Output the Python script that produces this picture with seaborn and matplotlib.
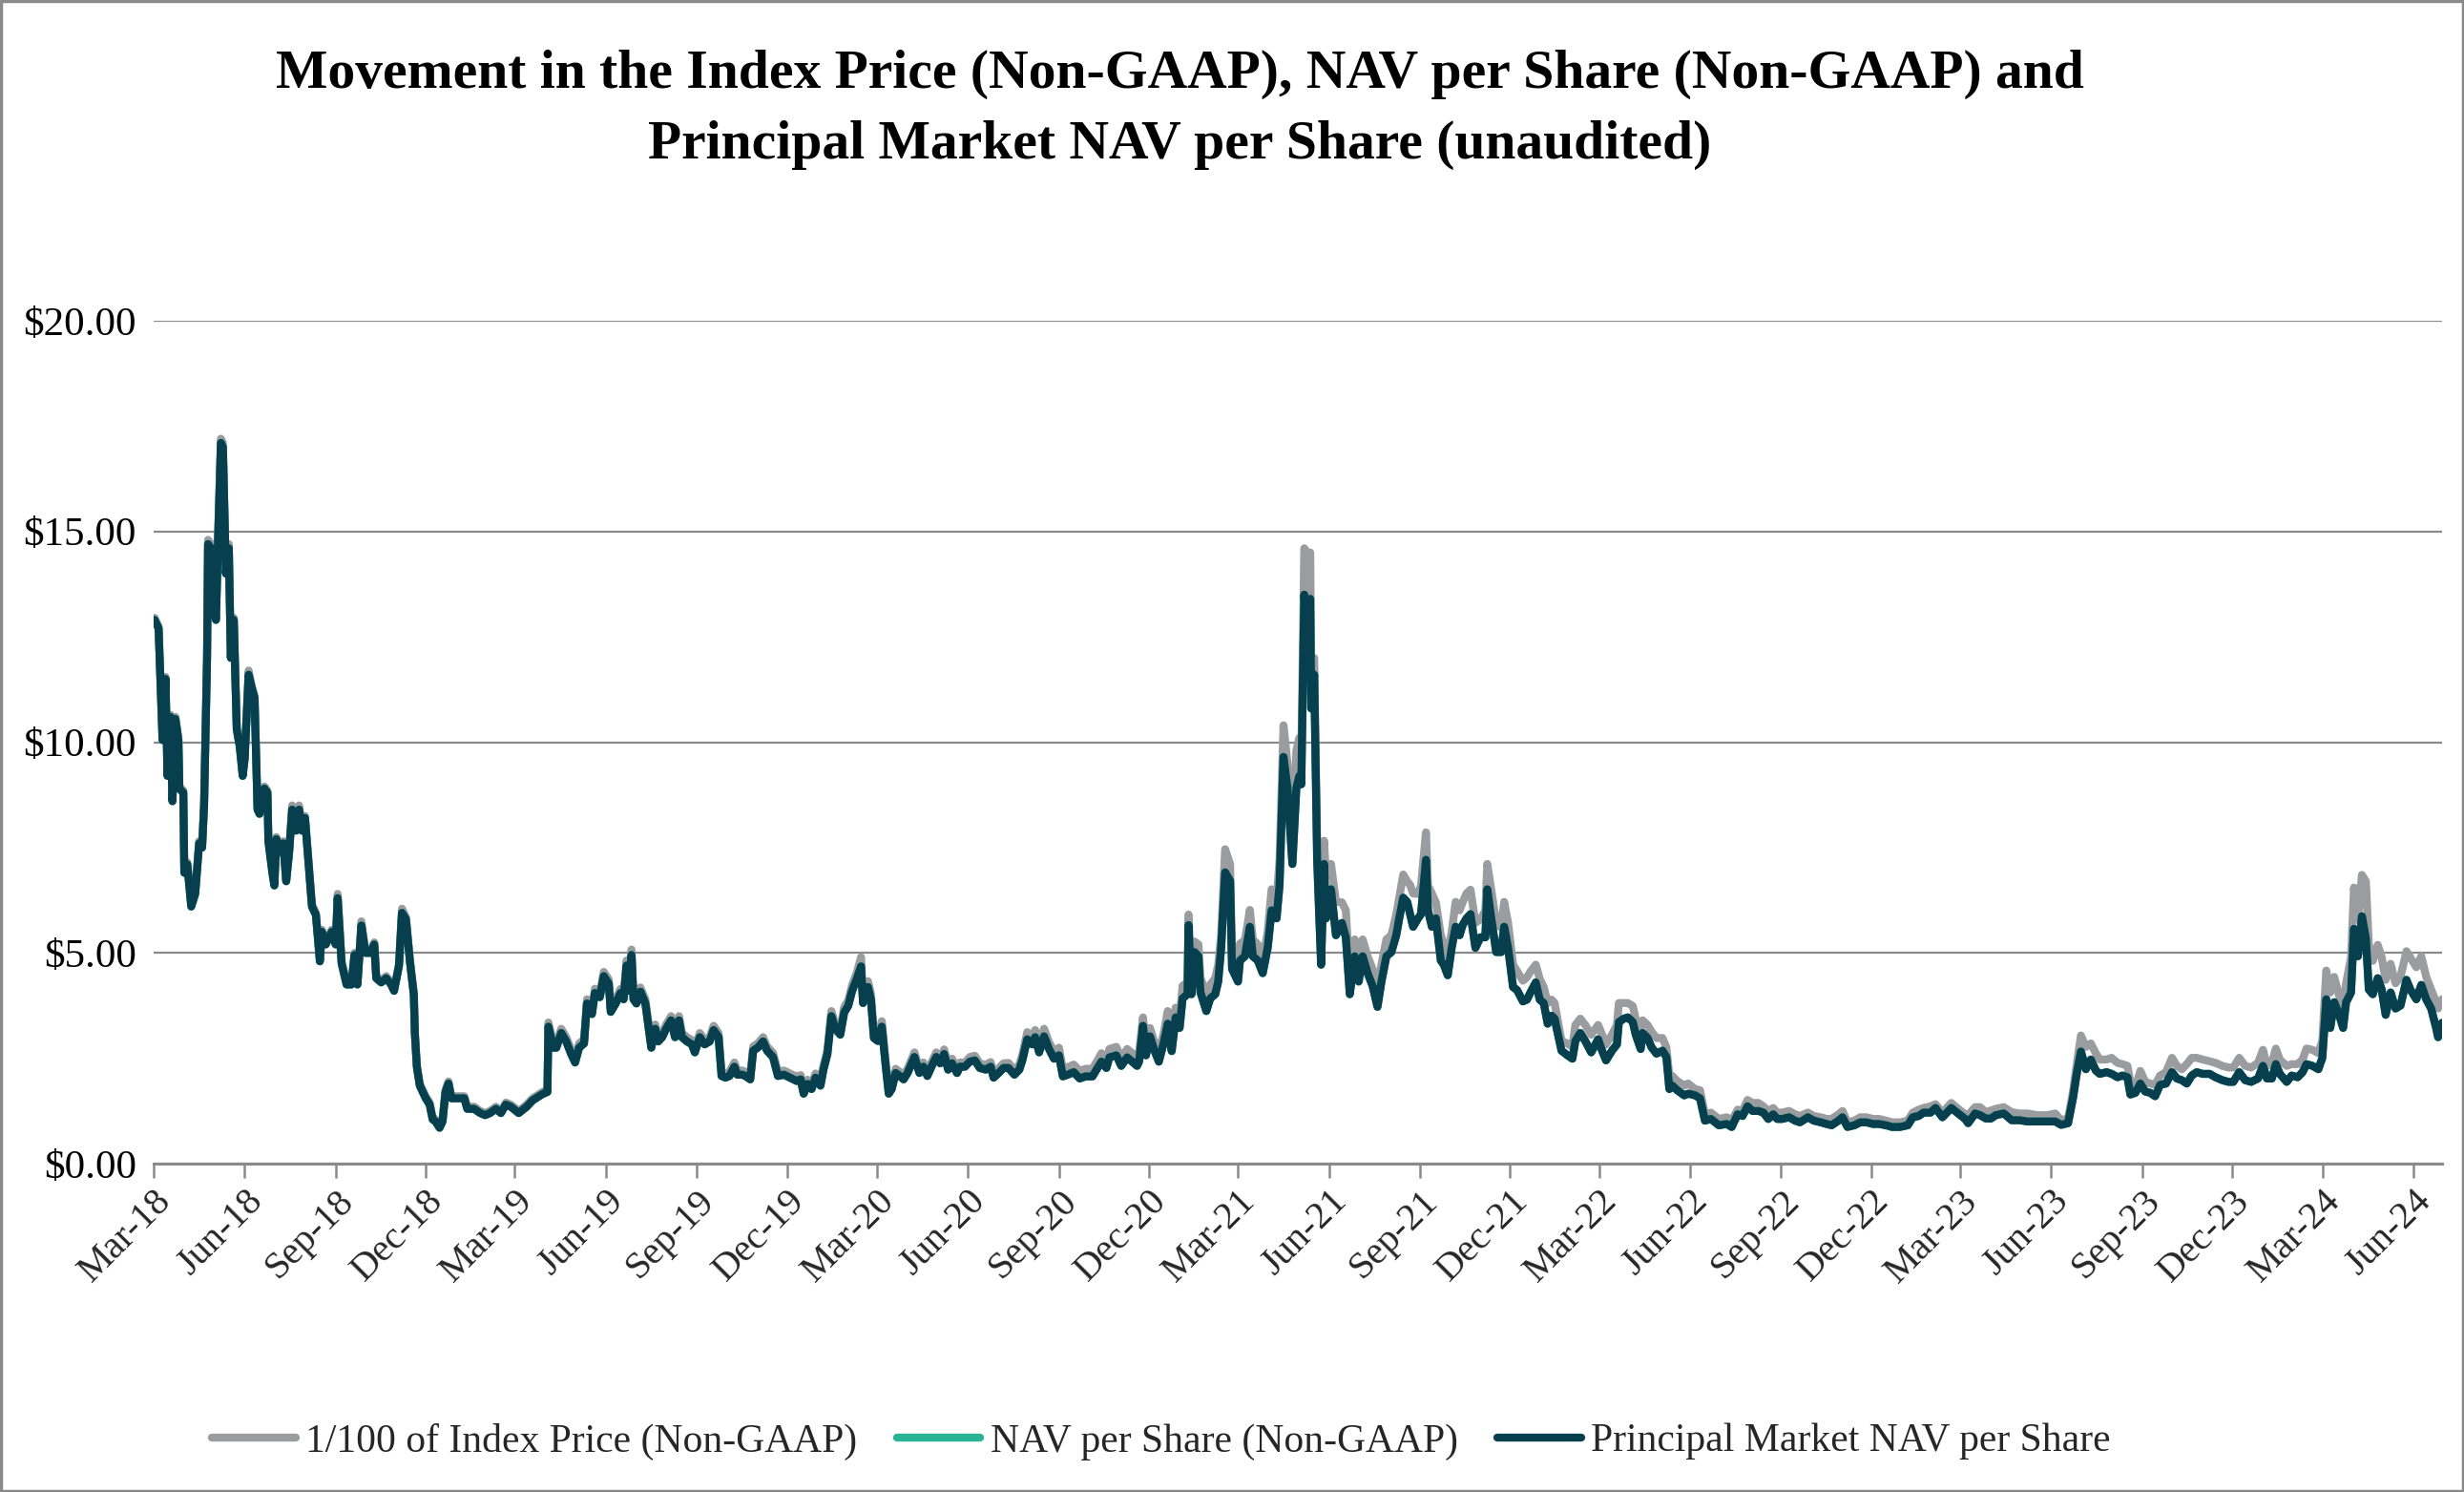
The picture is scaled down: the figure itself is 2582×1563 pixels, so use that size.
import matplotlib
matplotlib.use("Agg")
import matplotlib.pyplot as plt
import matplotlib.dates as mdates
from matplotlib.patches import Rectangle
from matplotlib.lines import Line2D
import pandas as pd
import seaborn as sns

# ---------------- data ----------------
start_date = "2018-03-01"

days_since_start = [
    1, 5, 9, 12, 14, 17, 19, 22, 25, 26,
    30, 31, 34, 38, 42, 46, 49, 51, 54, 55,
    58, 60, 63, 65, 68, 70, 71, 73, 76, 78,
    81, 84, 87, 90, 92, 96, 99, 102, 105, 107,
    112, 115, 116, 120, 122, 124, 128, 131, 134, 137,
    140, 144, 147, 150, 153, 160, 164, 168, 170, 174,
    180, 184, 186, 190, 195, 200, 203, 206, 210, 214,
    219, 223, 225, 230, 235, 240, 243, 248, 251, 255,
    259, 263, 264, 266, 269, 272, 275, 279, 282, 285,
    289, 292, 295, 298, 301, 308, 314, 317, 324, 330,
    335, 340, 346, 351, 356, 361, 369, 377, 383, 393,
    398, 399, 404, 407, 412, 417, 422, 426, 430, 435,
    438, 443, 446, 451, 455,
    460, 462, 467, 472, 475, 478, 481, 483, 485, 488,
    492, 497, 503, 507, 510, 514, 518, 523, 527, 531,
    534, 539, 544, 547, 552, 557, 562, 566, 571, 574,
    578, 582, 587, 590, 595, 598, 603, 606, 611, 616,
    620, 626, 631, 637, 643, 650, 654, 657, 661, 665,
    669, 674, 677, 681, 685, 689, 694, 698, 702, 706,
    711, 715, 717, 722, 725, 728, 732, 736, 740, 743,
    746, 750, 754, 758, 762, 769, 774, 778, 782, 787,
    791, 795, 799, 803, 807, 812, 815, 820, 825, 830,
    835, 841, 846, 849, 854, 859, 864, 870, 875, 878,
    883, 888, 891, 895, 900, 905, 910,
    915, 919, 925, 930, 936, 942, 949, 954, 958, 963,
    966, 973, 978, 984, 989, 994, 996, 1000, 1003, 1007,
    1011, 1016, 1021, 1025, 1029, 1033, 1037, 1040, 1045, 1046,
    1049, 1052, 1056, 1058, 1064, 1068, 1073, 1076, 1079, 1083,
    1088, 1090, 1096, 1098, 1103, 1108, 1111, 1116, 1121, 1126,
    1130, 1135, 1138, 1142, 1146, 1151, 1155, 1158, 1160, 1163,
    1166, 1169, 1170, 1173, 1176, 1180, 1183, 1185, 1190, 1195,
    1201, 1205, 1209, 1214, 1218, 1222, 1227, 1232, 1237, 1241,
    1246, 1251, 1256, 1259, 1263, 1267, 1270, 1273, 1278, 1281,
    1286, 1288, 1292, 1296, 1301, 1304, 1308, 1312, 1316, 1320,
    1323, 1327, 1331, 1336, 1341, 1346, 1348, 1352, 1357, 1362,
    1365, 1369,
    1374, 1378, 1384, 1388, 1392, 1397, 1401, 1405, 1409, 1413,
    1416, 1423, 1429, 1434, 1437, 1442, 1447, 1453, 1460, 1464,
    1468, 1474, 1479, 1481, 1486, 1490, 1495, 1498, 1503, 1505,
    1510, 1514, 1519, 1525, 1529, 1532, 1535, 1540, 1547, 1551,
    1558, 1563, 1568, 1574, 1582, 1590, 1595, 1601, 1606, 1611,
    1616, 1622, 1627, 1632, 1637, 1641, 1646, 1653, 1659, 1664,
    1672, 1678, 1685, 1691, 1696, 1703, 1707, 1712, 1719, 1725,
    1731, 1738, 1744, 1751, 1757, 1765, 1773, 1778, 1784, 1789,
    1796, 1801, 1808, 1817, 1825, 1831,
    1834, 1841, 1846, 1852, 1857, 1862, 1870, 1878, 1886, 1894,
    1904, 1914, 1922, 1928, 1935, 1940, 1944, 1948, 1953, 1958,
    1963, 1967, 1974, 1979, 1985, 1990, 1995, 1998, 2003, 2008,
    2013, 2018, 2023, 2028, 2034, 2040, 2045, 2050, 2055, 2060,
    2065, 2071, 2078, 2084, 2091, 2097, 2102, 2108, 2114, 2120,
    2127, 2132, 2136, 2141, 2145, 2149, 2156, 2161, 2167, 2172,
    2176, 2182, 2188, 2192, 2196, 2200, 2204, 2209, 2213, 2216,
    2221, 2224, 2228, 2232, 2236, 2239, 2243, 2248, 2252, 2256,
    2261, 2266, 2271, 2277, 2281, 2287, 2292, 2297, 2302, 2307,
    2309, 2313,
]

principal_market_nav = [
    12.9, 12.7, 10.05, 11.5, 9.2, 10.6, 8.6, 10.55, 10.05, 8.9,
    8.8, 6.9, 7.1, 6.1, 6.4, 7.6, 7.5, 8.5, 12.0, 14.7,
    14.6, 13.2, 12.9, 14.7, 17.1, 17.0, 16.0, 14.0, 14.6, 12.0,
    12.9, 10.3, 9.9, 9.2, 9.6, 11.6, 11.3, 11.05, 8.4, 8.3,
    8.9, 8.8, 7.65, 6.9, 6.6, 7.7, 7.4, 7.6, 6.7, 7.4,
    8.4, 7.9, 8.4, 7.9, 8.2, 6.1, 5.9, 4.8, 5.5, 5.2,
    5.5, 5.2, 6.3, 4.75, 4.25, 4.25, 4.95, 4.25, 5.65, 5.0,
    5.0, 5.2, 4.4, 4.3, 4.4, 4.25, 4.1, 4.7, 5.95, 5.8,
    4.8, 4.0, 3.1, 2.3, 1.85, 1.7, 1.55, 1.4, 1.05, 1.0,
    0.85, 1.0, 1.7, 1.9, 1.55, 1.55, 1.55, 1.3, 1.3, 1.2,
    1.15, 1.2, 1.3, 1.2, 1.4, 1.35, 1.2, 1.35, 1.5, 1.65,
    1.7, 3.25, 2.75, 2.75, 3.1, 2.9, 2.6, 2.4, 2.75, 2.85,
    3.8, 3.55, 4.05, 3.95, 4.45,
    4.27, 3.6, 3.8, 4.05, 3.9, 4.7, 4.1, 4.95, 3.9, 3.8,
    4.08, 3.8, 2.75, 3.2, 2.9, 3.0, 3.2, 3.4, 3.0, 3.4,
    3.0, 2.9, 2.83, 2.64, 3.0, 2.83, 2.9, 3.17, 3.0, 2.08,
    2.04, 2.08, 2.3, 2.11, 2.11, 2.08, 2.0, 2.68, 2.76, 2.9,
    2.68, 2.53, 2.08, 2.11, 2.04, 1.96, 2.0, 1.66, 1.89, 1.77,
    2.04, 1.85, 2.23, 2.6, 3.5, 3.2, 3.06, 3.59, 3.74, 4.1,
    4.4, 4.68, 3.81, 4.19, 3.89, 2.98, 2.91, 3.25, 2.3, 1.66,
    1.77, 2.15, 2.08, 2.0, 2.15, 2.53, 2.15, 2.3, 2.08, 2.34,
    2.53, 2.38, 2.6, 2.23, 2.38, 2.15, 2.3, 2.3, 2.42, 2.45,
    2.27, 2.23, 2.3, 2.04, 2.15, 2.27, 2.27, 2.11, 2.23, 2.45,
    2.95, 2.83, 3.0, 2.64, 3.02, 2.72, 2.49,
    2.57, 2.07, 2.12, 2.17, 2.02, 2.07, 2.07, 2.27, 2.42, 2.27,
    2.52, 2.57, 2.32, 2.52, 2.42, 2.32, 2.42, 3.27, 2.57, 3.02,
    2.72, 2.42, 2.87, 3.32, 2.67, 3.47, 3.22, 3.92, 4.02, 5.66,
    4.02, 5.02, 4.92, 4.07, 3.62, 3.92, 4.02, 4.32, 5.12, 6.91,
    6.71, 4.62, 4.32, 4.82, 4.92, 5.62, 4.92, 4.82, 4.52, 5.12,
    6.01, 5.82, 6.61, 9.65, 8.91, 7.11, 8.91, 9.2, 9.0, 13.5,
    12.3, 13.4, 10.8, 11.6, 7.21, 4.72, 7.11, 5.82, 6.51, 5.42,
    5.71, 5.37, 4.02, 4.92, 4.32, 4.92, 4.52, 4.22, 3.72, 4.32,
    4.92, 5.02, 5.42, 5.82, 6.31, 6.21, 5.92, 5.62, 5.82, 5.92,
    7.21, 6.01, 5.62, 5.82, 4.82, 4.72, 4.47, 5.12, 5.62, 5.42,
    5.66, 5.82, 5.92, 5.12, 5.37, 5.37, 6.51, 5.82, 5.02, 5.02,
    5.62, 5.12,
    4.19, 4.12, 3.85, 3.89, 4.08, 4.3, 3.89, 3.81, 3.32, 3.51,
    3.44, 2.68, 2.57, 2.49, 2.91, 3.1, 2.91, 2.64, 2.95, 2.68,
    2.45, 2.68, 2.83, 3.36, 3.44, 3.47, 3.36, 3.06, 2.72, 3.1,
    2.98, 2.76, 2.61, 2.68, 2.53, 1.77, 1.85, 1.74, 1.62, 1.66,
    1.62, 1.55, 1.02, 1.06, 0.91, 0.94, 0.87, 1.17, 1.13, 1.36,
    1.25, 1.25, 1.21, 1.06, 1.17, 1.06, 1.06, 1.1, 1.02, 0.98,
    1.1, 1.02, 0.98, 0.94, 0.91, 1.02, 1.1, 0.87, 0.91, 0.98,
    0.98, 0.94, 0.94, 0.91, 0.87, 0.87, 0.91, 1.1, 1.13, 1.21,
    1.21, 1.32, 1.1, 1.32, 1.17, 1.06,
    0.96, 1.19, 1.15, 1.07, 1.07, 1.15, 1.19, 1.03, 1.03, 1.0,
    1.0, 1.0, 1.0, 0.92, 0.96, 1.56, 2.17, 2.66, 2.24, 2.47,
    2.21, 2.13, 2.17, 2.13, 2.05, 2.09, 2.05, 1.64, 1.68, 1.9,
    1.71, 1.68, 1.6, 1.87, 1.9, 2.17, 2.02, 1.98, 1.9, 2.09,
    2.17, 2.13, 2.13, 2.05, 1.98, 1.94, 1.94, 2.17, 1.98, 1.94,
    2.02, 2.32, 2.02, 2.02, 2.36, 2.13, 1.94, 2.09, 2.05, 2.17,
    2.36, 2.32, 2.24, 2.51, 3.9, 3.22, 3.83, 3.53, 3.22, 3.83,
    4.06, 5.57, 4.92, 5.87, 5.34, 4.13, 4.02, 4.4, 4.13, 3.53,
    4.06, 3.68, 3.75, 4.36, 4.13, 3.9, 4.24, 3.9, 3.68, 3.22,
    3.0, 3.34,
]

index_price_div100 = [
    12.95, 12.75, 10.1, 11.55, 9.25, 10.65, 8.65, 10.6, 10.1, 8.95,
    8.85, 6.95, 7.15, 6.15, 6.45, 7.65, 7.55, 8.55, 12.05, 14.8,
    14.7, 13.25, 12.95, 14.8, 17.2, 17.1, 16.1, 14.05, 14.7, 12.05,
    12.95, 10.35, 9.95, 9.25, 9.65, 11.7, 11.35, 11.1, 8.45, 8.35,
    8.95, 8.85, 7.7, 6.95, 6.65, 7.75, 7.45, 7.65, 6.75, 7.45,
    8.5, 7.95, 8.5, 7.95, 8.25, 6.15, 5.95, 4.85, 5.55, 5.25,
    5.55, 5.25, 6.4, 4.8, 4.3, 4.3, 5.0, 4.3, 5.75, 5.05,
    5.05, 5.25, 4.45, 4.35, 4.45, 4.3, 4.15, 4.75, 6.05, 5.85,
    4.85, 4.05, 3.15, 2.35, 1.9, 1.75, 1.6, 1.45, 1.1, 1.05,
    0.9, 1.05, 1.75, 1.95, 1.6, 1.6, 1.6, 1.35, 1.35, 1.25,
    1.2, 1.25, 1.35, 1.25, 1.45, 1.4, 1.25, 1.4, 1.55, 1.7,
    1.75, 3.35, 2.85, 2.85, 3.2, 3.0, 2.7, 2.5, 2.85, 2.95,
    3.9, 3.65, 4.15, 4.05, 4.55,
    4.37, 3.7, 3.9, 4.15, 4.0, 4.82, 4.2, 5.08, 4.0, 3.9,
    4.18, 3.9, 2.85, 3.3, 3.0, 3.1, 3.3, 3.5, 3.1, 3.5,
    3.1, 3.0, 2.93, 2.74, 3.1, 2.93, 3.0, 3.27, 3.1, 2.18,
    2.14, 2.18, 2.4, 2.21, 2.21, 2.18, 2.1, 2.78, 2.86, 3.0,
    2.78, 2.63, 2.18, 2.21, 2.14, 2.06, 2.1, 1.76, 1.99, 1.87,
    2.14, 1.95, 2.33, 2.7, 3.62, 3.32, 3.18, 3.72, 3.87, 4.24,
    4.55, 4.9, 3.95, 4.33, 4.03, 3.1, 3.03, 3.38, 2.4, 1.74,
    1.85, 2.25, 2.18, 2.1, 2.25, 2.64, 2.25, 2.4, 2.18, 2.44,
    2.64, 2.49, 2.71, 2.33, 2.49, 2.25, 2.4, 2.4, 2.53, 2.56,
    2.38, 2.34, 2.41, 2.14, 2.26, 2.38, 2.39, 2.22, 2.35, 2.58,
    3.12, 2.99, 3.17, 2.8, 3.2, 2.88, 2.66,
    2.75, 2.25, 2.3, 2.35, 2.2, 2.25, 2.25, 2.45, 2.62, 2.45,
    2.72, 2.77, 2.5, 2.72, 2.62, 2.52, 2.62, 3.47, 2.77, 3.22,
    2.92, 2.62, 3.1, 3.62, 2.9, 3.7, 3.45, 4.22, 4.3, 5.91,
    4.35, 5.27, 5.2, 4.42, 4.02, 4.25, 4.4, 4.72, 5.42, 7.46,
    7.11, 4.92, 4.72, 5.22, 5.3, 6.02, 5.32, 5.2, 4.82, 5.5,
    6.51, 6.25, 7.21, 10.4, 9.5, 7.51, 9.8, 10.1, 9.7, 14.6,
    14.5, 14.5, 11.8, 12.0, 7.6, 5.1, 7.66, 6.81, 7.11, 6.21,
    6.2, 6.01, 4.42, 5.32, 4.72, 5.32, 4.92, 4.62, 4.12, 4.72,
    5.32, 5.42, 5.91, 6.31, 6.86, 6.7, 6.61, 6.41, 6.4, 6.6,
    7.86, 6.6, 6.41, 6.2, 5.42, 5.2, 4.92, 5.5, 6.21, 6.01,
    6.2, 6.41, 6.5, 5.71, 5.8, 6.0, 7.11, 6.5, 5.71, 5.6,
    6.21, 5.71,
    4.72, 4.57, 4.34, 4.42, 4.57, 4.72, 4.38, 4.19, 3.81, 3.89,
    3.81, 2.91, 2.85, 2.77, 3.29, 3.44, 3.29, 3.06, 3.29, 3.06,
    2.83, 3.06, 3.29, 3.81, 3.81, 3.81, 3.74, 3.44, 3.21, 3.4,
    3.29, 3.13, 2.98, 2.98, 2.76, 2.08, 2.08, 1.96, 1.85, 1.9,
    1.77, 1.74, 1.17, 1.21, 1.06, 1.1, 1.02, 1.28, 1.25, 1.51,
    1.44, 1.44, 1.36, 1.25, 1.32, 1.21, 1.21, 1.25, 1.17, 1.13,
    1.21, 1.13, 1.1, 1.06, 1.06, 1.17, 1.25, 0.98, 1.02, 1.1,
    1.1, 1.06, 1.06, 1.02, 0.98, 0.98, 1.02, 1.21, 1.28, 1.32,
    1.36, 1.41, 1.21, 1.44, 1.28, 1.17,
    1.15, 1.34, 1.34, 1.22, 1.26, 1.3, 1.34, 1.22, 1.19, 1.19,
    1.15, 1.15, 1.19, 1.03, 1.07, 1.71, 2.39, 3.04, 2.77, 2.85,
    2.62, 2.47, 2.47, 2.51, 2.39, 2.36, 2.32, 1.94, 1.79, 2.2,
    1.94, 1.9, 1.87, 2.09, 2.17, 2.51, 2.32, 2.24, 2.36, 2.51,
    2.51, 2.47, 2.43, 2.39, 2.32, 2.28, 2.28, 2.51, 2.32, 2.28,
    2.39, 2.7, 2.32, 2.39, 2.73, 2.47, 2.32, 2.36, 2.36, 2.47,
    2.73, 2.7, 2.62, 2.92, 4.58, 4.06, 4.43, 3.98, 3.68, 4.28,
    4.89, 6.55, 5.79, 6.85, 6.7, 5.19, 4.81, 5.19, 4.89, 4.36,
    4.74, 4.28, 4.43, 5.04, 4.89, 4.66, 4.92, 4.43, 4.13, 3.83,
    3.68, 3.9,
]

# In the reference the NAV per Share line coincides with (and is hidden
# beneath) the Principal Market NAV per Share line.
nav_per_share = list(principal_market_nav)

series_labels = [
    "1/100 of Index Price (Non-GAAP)",
    "NAV per Share (Non-GAAP)",
    "Principal Market NAV per Share",
]
y_ticks = [0, 5, 10, 15, 20]
title_lines = [
    "Movement in the Index Price (Non-GAAP), NAV per Share (Non-GAAP) and",
    "Principal Market NAV per Share (unaudited)",
]
end_date = "2024-06-30"

# ---------------- build table ----------------
dates = pd.Timestamp(start_date) + pd.to_timedelta(days_since_start, unit="D")
df = pd.DataFrame({
    "date": dates,
    "index": index_price_div100,
    "nav": nav_per_share,
    "pm": principal_market_nav,
})

# ---------------- styling ----------------
sns.set_theme(style="white")
plt.rcParams["font.family"] = ["Liberation Serif", "DejaVu Serif"]

W, H = 2582, 1563
fig = plt.figure(figsize=(W / 100, H / 100), dpi=100)
fig.patch.set_facecolor("white")

left, right, bottom, top = 161, 2559, 1219, 336
ax = fig.add_axes([left / W, 1 - bottom / H, (right - left) / W, (bottom - top) / H])

GRAY = "#9b9c9f"
TEAL = "#27b394"
NAVY = "#073f4e"
GRID = "#8a8a8a"
LW = 6.0

sns.lineplot(data=df, x="date", y="index", color=GRAY, lw=LW, ax=ax,
             estimator=None, sort=False)
sns.lineplot(data=df, x="date", y="nav", color=TEAL, lw=LW, ax=ax,
             estimator=None, sort=False)
sns.lineplot(data=df, x="date", y="pm", color=NAVY, lw=LW, ax=ax,
             estimator=None, sort=False)

ax.set_xlim(pd.Timestamp(start_date), pd.Timestamp(end_date))
ax.set_ylim(y_ticks[0], y_ticks[-1])
ax.set_yticks(y_ticks)
ax.yaxis.set_major_formatter(plt.FuncFormatter(lambda v, p: f"${v:.2f}"))
ax.set_xlabel("")
ax.set_ylabel("")

ax.grid(axis="y", color=GRID, lw=1.6)
ax.grid(axis="x", visible=False)
ax.set_axisbelow(True)
for s in ["left", "right", "top"]:
    ax.spines[s].set_visible(False)
ax.spines["bottom"].set_color(GRID)
ax.spines["bottom"].set_linewidth(2.2)

ax.xaxis.set_major_locator(mdates.MonthLocator(bymonth=[3, 6, 9, 12]))
ax.xaxis.set_major_formatter(mdates.DateFormatter("%b-%y"))
ax.tick_params(axis="x", direction="out", length=11, width=1.8, color=GRID,
               labelsize=29, pad=4, bottom=True)
ax.tick_params(axis="y", length=0, labelsize=31, pad=13)
for lab in ax.get_xticklabels():
    lab.set_rotation(45)
    lab.set_ha("right")
    lab.set_va("top")
    lab.set_rotation_mode("anchor")
for lab in ax.get_yticklabels():
    lab.set_color("black")

# title
fig.text(1236 / W, 1 - 78 / H, title_lines[0], ha="center", va="center",
         fontsize=41.5, fontweight="bold", color="black")
fig.text(1236 / W, 1 - 152 / H, title_lines[1], ha="center", va="center",
         fontsize=41.5, fontweight="bold", color="black")

# legend
handles = [Line2D([], [], color=c, lw=LW) for c in (GRAY, TEAL, NAVY)]
fig.legend(handles, series_labels, loc="center",
           bbox_to_anchor=(1217 / W, 1 - 1510 / H), ncol=3, frameon=False,
           fontsize=30, handlelength=2.1, handletextpad=0.25, columnspacing=1.0)

# outer border
fig.patches.append(Rectangle((0.0005, 0.0008), 0.999, 0.9985, transform=fig.transFigure,
                             fill=False, edgecolor=GRID, lw=2.5))

fig.savefig("out.png", dpi=100, facecolor="white")
